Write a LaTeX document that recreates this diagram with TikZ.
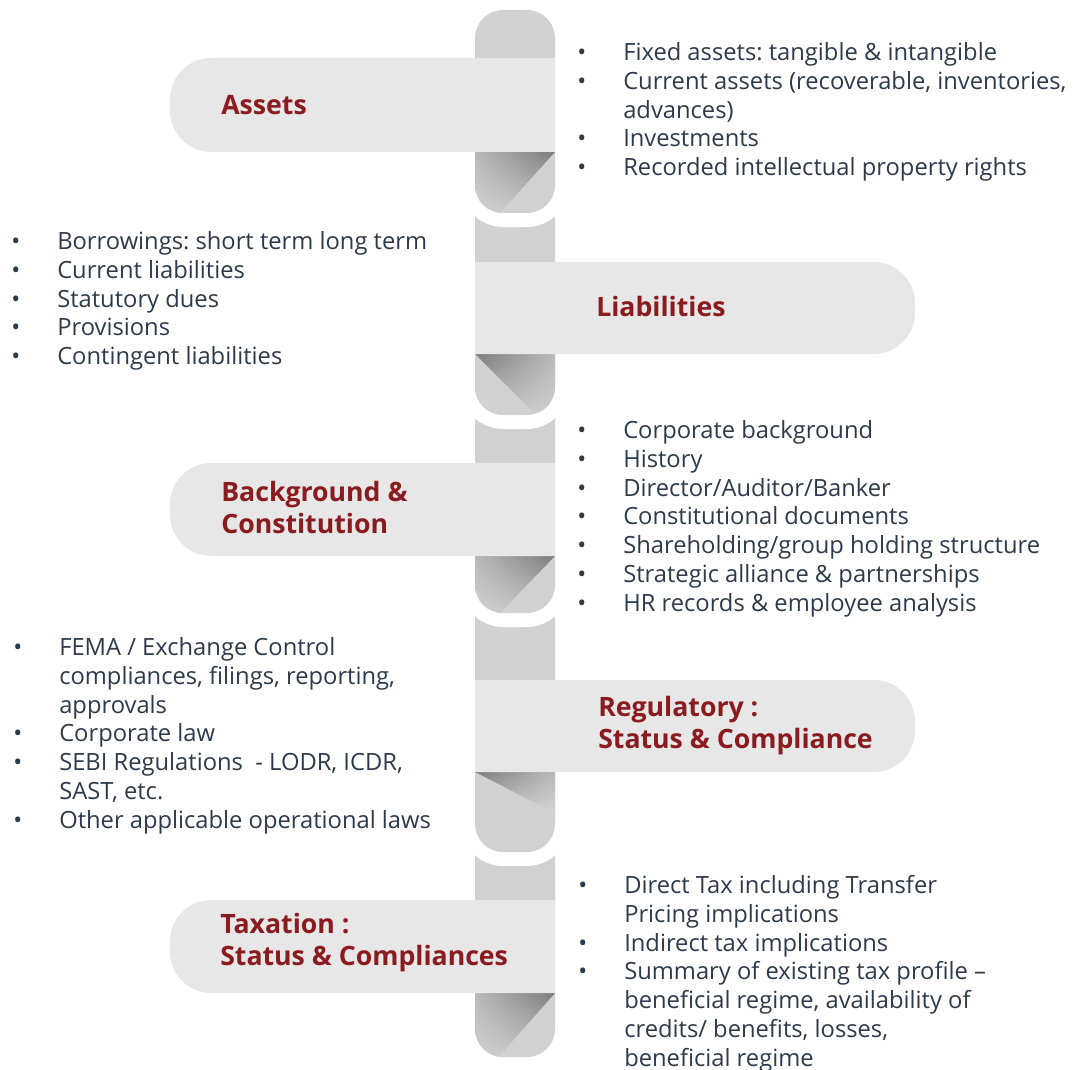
\documentclass[tikz,border=0pt]{standalone}
\usepackage{fontspec}
\setmainfont{Open Sans}
\usepackage{tikz}
\usetikzlibrary{shadings}

\definecolor{bandgray}{HTML}{E7E7E7}
\definecolor{pillgray}{HTML}{D1D1D1}
\definecolor{shadedark}{HTML}{7C7C7C}
\definecolor{titlered}{HTML}{8A1B1F}
\definecolor{bodyink}{HTML}{2D3A4B}

\newcommand{\bul}{\makebox[34.5pt][l]{•}}
\newcommand{\ind}{\hspace*{34.5pt}}
\frenchspacing

\begin{document}
\begin{tikzpicture}[x=0.75pt,y=-0.75pt,
	title/.style={anchor=west, align=left, inner sep=0pt, text=titlered, font=\fontsize{20}{24}\selectfont\bfseries},
	list/.style={anchor=north west, align=left, inner sep=0pt, text=bodyink, font=\fontsize{17.8}{21.6}\selectfont},
	band/.style={fill=bandgray, rounded corners=31pt},
	pill/.style={fill=pillgray, rounded corners=21pt},
	gap/.style={draw=white, line width=21pt, rounded corners=21pt}]

	\useasboundingbox (0,0) rectangle (1078,1070);

	% column, bottom part first
	\fill[pill] (475,820) -- (475,1057) -- (555,1057) -- (555,820);
	\begin{scope}
		\clip[rounded corners=21pt] (475,820) -- (475,1057) -- (555,1057) -- (555,820);
		\shade[upper right=shadedark, upper left=gray!55, lower left=pillgray!95!white, lower right=gray!45]
		(475,993) -- (555,993) -- (494,1062) -- (475,1062) -- cycle;
	\end{scope}

	\draw[gap] (475,580) -- (475,852) -- (555,852) -- (555,580);
	\fill[pill] (475,580) -- (475,852) -- (555,852) -- (555,580);
	\begin{scope}
		\clip[rounded corners=21pt] (475,580) -- (475,852) -- (555,852) -- (555,580);
		\shade[upper left=shadedark, upper right=gray!55, lower right=pillgray!95!white, lower left=gray!45]
		(475,772) -- (555,772) -- (555,813) -- cycle;
	\end{scope}

	\draw[gap] (475,380) -- (475,613) -- (555,613) -- (555,380);
	\fill[pill] (475,380) -- (475,613) -- (555,613) -- (555,380);
	\begin{scope}
		\clip[rounded corners=21pt] (475,380) -- (475,613) -- (555,613) -- (555,380);
		\shade[upper right=shadedark, upper left=gray!55, lower left=pillgray!95!white, lower right=gray!45]
		(475,556) -- (555,556) -- (496,617) -- (475,617) -- cycle;
	\end{scope}

	\draw[gap] (475,180) -- (475,415) -- (555,415) -- (555,180);
	\fill[pill] (475,180) -- (475,415) -- (555,415) -- (555,180);
	\begin{scope}
		\clip[rounded corners=21pt] (475,180) -- (475,415) -- (555,415) -- (555,180);
		\shade[upper left=shadedark, upper right=gray!55, lower right=pillgray!95!white, lower left=gray!45]
		(475,354) -- (555,354) -- (555,420) -- (541,420) -- cycle;
	\end{scope}

	\draw[gap] (475,40) -- (475,213) -- (555,213) -- (555,40);
	\fill[pill] (475,10) rectangle (555,213);
	\begin{scope}
		\clip[rounded corners=21pt] (475,10) rectangle (555,213);
		\shade[upper right=shadedark, upper left=gray!55, lower left=pillgray!95!white, lower right=gray!45]
		(475,152) -- (555,152) -- (497,216) -- (475,216) -- cycle;
	\end{scope}

	% banners
	\fill[band] (555,58) -- (170,58) -- (170,152) -- (555,152);
	\fill[band] (475,262) -- (915,262) -- (915,354) -- (475,354);
	\fill[band] (555,463) -- (170,463) -- (170,556) -- (555,556);
	\fill[band] (475,680) -- (915,680) -- (915,772) -- (475,772);
	\fill[band] (555,900) -- (170,900) -- (170,993) -- (555,993);

	% titles
	\node[title] (assets) at (221,105) {Assets};
	\node[title] (liab) at (596,306) {Liabilities};
	\node[title] (backg) at (221,507) {Background \&\\Constitution};
	\node[title] (regul) at (598,726) {Regulatory :\\Status \& Compliance};
	\node[title] (taxat) at (220,943) {Taxation :\\Status \& Compliances};

	% bullet lists
	\node[list] (assetlist) at (577,40) {\strut\bul Fixed assets: tangible \& intangible\\
		\bul Current assets (recoverable, inventories,\\
		\ind advances)\\
		\bul Investments\\
		\bul Recorded intellectual property rights};
	\node[list] (liablist) at (11,229) {\strut\bul Borrowings: short term long term\\
		\bul Current liabilities\\
		\bul Statutory dues\\
		\bul Provisions\\
		\bul Contingent liabilities};
	\node[list] (backglist) at (577,418) {\strut\bul Corporate background\\
		\bul History\\
		\bul Director/Auditor/Banker\\
		\bul Constitutional documents\\
		\bul Shareholding/group holding structure\\
		\bul Strategic alliance \& partnerships\\
		\bul HR records \& employee analysis};
	\node[list] (regullist) at (13,635) {\strut\bul FEMA / Exchange Control\\
		\ind compliances, filings, reporting,\\
		\ind approvals\\
		\bul Corporate law\\
		\bul SEBI Regulations~ - LODR, ICDR,\\
		\ind SAST, etc.\\
		\bul Other applicable operational laws};
	\node[list] (taxatlist) at (578,873) {\strut\bul Direct Tax including Transfer\\
		\ind Pricing implications\\
		\bul Indirect tax implications\\
		\bul Summary of existing tax profile –\\
		\ind beneficial regime, availability of\\
		\ind credits/ benefits, losses,\\
		\ind beneficial regime};
\end{tikzpicture}
\end{document}
